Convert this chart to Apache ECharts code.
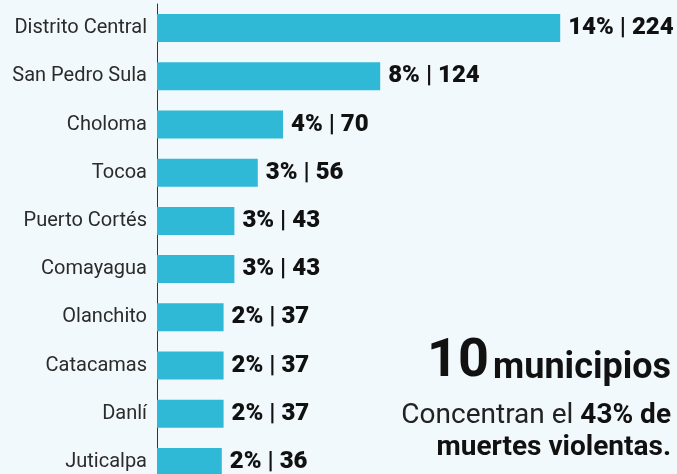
<!DOCTYPE html>
<html>
<head>
<meta charset="utf-8">
<script src="https://cdn.jsdelivr.net/npm/echarts@6/dist/echarts.min.js"></script>
<style>
  html, body { margin: 0; padding: 0; background: #f2f9fc; overflow: hidden; }
  /* más alto que la ventana: la última fila queda cortada abajo, como en el original */
  #chart { width: 677px; height: 490px; }
</style>
</head>
<body>
<div id="chart"></div>
<script>
  // municipios, de arriba hacia abajo
  var municipios = ['Distrito Central', 'San Pedro Sula', 'Choloma', 'Tocoa', 'Puerto Cortés',
    'Comayagua', 'Olanchito', 'Catacamas', 'Danlí', 'Juticalpa'];
  var muertes = [224, 124, 70, 56, 43, 43, 37, 37, 37, 36];
  var porcentajes = [14, 8, 4, 3, 3, 3, 2, 2, 2, 2];

  var myChart = echarts.init(document.getElementById('chart'));

  var options = {
    backgroundColor: '#f2f9fc',
    animation: false,
    grid: {
      left: 157,
      width: 450,
      top: 4,
      height: 482
    },
    xAxis: {
      type: 'value',
      min: 0,
      max: 250,
      show: false
    },
    yAxis: {
      type: 'category',
      inverse: true,
      data: municipios,
      axisLine: { show: true, lineStyle: { color: '#333', width: 1 } },
      axisTick: { show: false },
      axisLabel: {
        color: '#2b2b2b',
        fontFamily: 'Roboto',
        fontSize: 20,
        margin: 10
      }
    },
    series: [{
      type: 'bar',
      data: muertes,
      barWidth: 28,
      itemStyle: { color: '#2fb9d6' },
      label: {
        show: true,
        position: 'right',
        distance: 8,
        fontFamily: 'Roboto',
        fontWeight: 900,
        fontSize: 24,
        color: '#111',
        formatter: function (p) {
          return porcentajes[p.dataIndex] + '% | ' + p.value;
        }
      }
    }],
    graphic: [
      {
        type: 'text',
        x: 489, y: 362,
        style: {
          text: '10', textAlign: 'right', textVerticalAlign: 'middle',
          fontFamily: 'Roboto', fontWeight: 'bold', fontSize: 54, fill: '#111'
        }
      },
      {
        type: 'text',
        x: 671, y: 369,
        style: {
          text: 'municipios', textAlign: 'right', textVerticalAlign: 'middle',
          fontFamily: 'Roboto', fontWeight: 'bold', fontSize: 36, fill: '#111'
        }
      },
      {
        type: 'text',
        x: 671, y: 416,
        style: {
          text: '{n|Concentran el }{b|43% de}', textAlign: 'right', textVerticalAlign: 'middle',
          rich: {
            n: { fontFamily: 'Roboto', fontSize: 28, fill: '#222' },
            b: { fontFamily: 'Roboto', fontWeight: 'bold', fontSize: 28, fill: '#111' }
          }
        }
      },
      {
        type: 'text',
        x: 671, y: 448,
        style: {
          text: 'muertes violentas.', textAlign: 'right', textVerticalAlign: 'middle',
          fontFamily: 'Roboto', fontWeight: 'bold', fontSize: 28, fill: '#111'
        }
      }
    ]
  };

  myChart.setOption(options, true);
</script>
</body>
</html>
